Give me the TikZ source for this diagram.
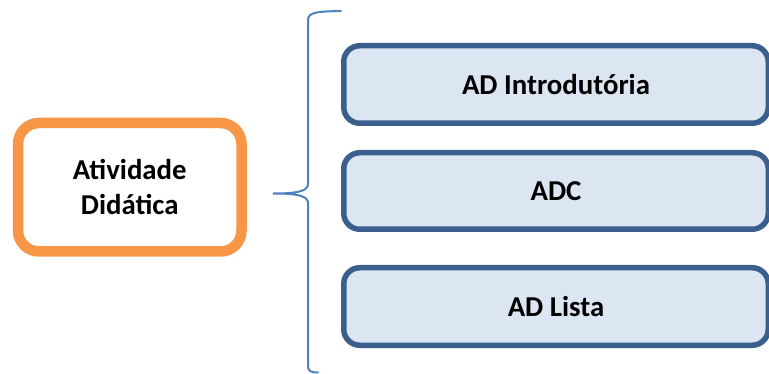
\documentclass[tikz,border=0pt]{standalone}
\usepackage{fontspec}
\setmainfont{Carlito}
\definecolor{orangeline}{HTML}{F79646}
\definecolor{blueline}{HTML}{3A5F8C}
\definecolor{bluefill}{HTML}{DCE6F2}
\definecolor{braceblue}{HTML}{4F81BD}
\tikzset{
  mainbox/.style={draw=orangeline, line width=10.5pt, fill=white, rounded corners=21pt, inner sep=0pt,
    font=\fontsize{28.8}{35}\selectfont\bfseries, align=center},
  subbox/.style={draw=blueline, line width=5.5pt, fill=bluefill, rounded corners=16pt, inner sep=0pt,
    font=\fontsize{28.8}{35}\selectfont\bfseries, align=center},
  bracestyle/.style={draw=braceblue, line width=2pt, line cap=round}
}
\begin{document}
\begin{tikzpicture}[x=1pt,y=-1pt]
\useasboundingbox (0,0) rectangle (769,374);
\begin{scope}
\clip (0,0) rectangle (769,374);
\node[mainbox, minimum width=223.5pt, minimum height=128.5pt] (main) at (129.75,187.25) {Atividade\\Didática};
\node[subbox, minimum width=424.5pt, minimum height=77.5pt] (b1) at (556,84.5) {AD Introdutória};
\node[subbox, minimum width=424.5pt, minimum height=76.5pt] (b2) at (556,191) {ADC};
\node[subbox, minimum width=424.5pt, minimum height=77.5pt] (b3) at (556,306.5) {AD Lista};
\coordinate (btop) at (341,11);
\coordinate (bmid) at (273,193.5);
\coordinate (bbot) at (318,372.5);
\draw[bracestyle] (btop) .. controls (318,11.5) and (308,12) .. (308,20)
  -- (308,184) .. controls (308,191) and (298,193.5) .. (bmid)
  .. controls (298,193.5) and (308,196) .. (308,203)
  -- (308,365) .. controls (308,371) and (310,372.5) .. (bbot);
\end{scope}
\end{tikzpicture}
\end{document}
